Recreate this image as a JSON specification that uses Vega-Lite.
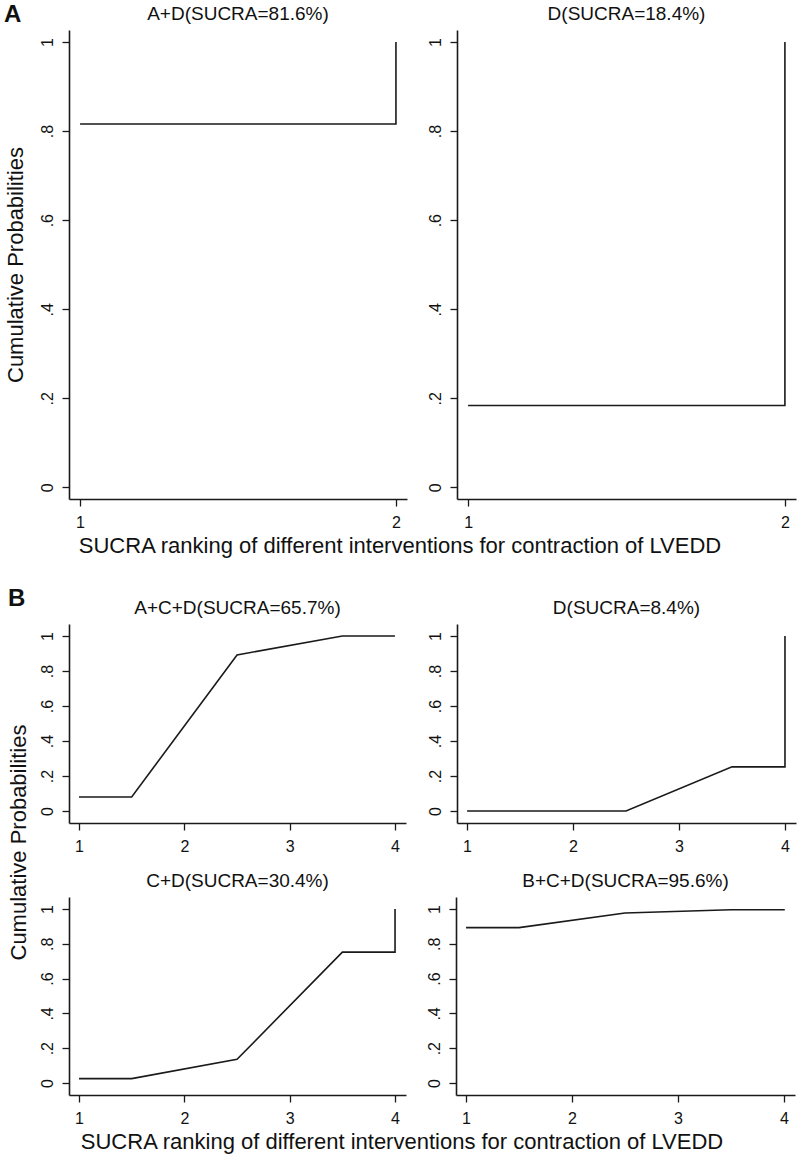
{
  "$schema": "https://vega.github.io/schema/vega-lite/v6.json",
  "background": "white",
  "padding": {"left": 4, "top": 3, "right": 5, "bottom": 5},
  "config": {
    "font": "Liberation Sans",
    "view": {"stroke": null},
    "axis": {
      "grid": false,
      "domainColor": "#1a1a1a",
      "domainWidth": 1.6,
      "tickColor": "#1a1a1a",
      "tickWidth": 1.3,
      "tickSize": 7,
      "labelColor": "#111111",
      "labelFont": "Liberation Sans",
      "labelFontSize": 16,
      "labelPadding": 8,
      "titleFont": "Liberation Sans",
      "titleFontWeight": "normal",
      "titleFontSize": 22,
      "titleColor": "#111111"
    },
    "axisX": {"format": "d"},
    "axisY": {"labelAngle": 270, "labelPadding": 7},
    "title": {"font": "Liberation Sans", "fontWeight": "normal", "fontSize": 19, "color": "#111111", "offset": 6},
    "line": {"color": "#1a1a1a", "strokeWidth": 1.6},
    "concat": {"spacing": 20}
  },
  "data": {
    "values": [
      {"figure": "A", "treatment": "A+D", "rank": 1, "prob": 0.816, "ord": 1},
      {"figure": "A", "treatment": "A+D", "rank": 2, "prob": 0.816, "ord": 2},
      {"figure": "A", "treatment": "A+D", "rank": 2, "prob": 1.0, "ord": 3},
      {"figure": "A", "treatment": "D", "rank": 1, "prob": 0.184, "ord": 1},
      {"figure": "A", "treatment": "D", "rank": 2, "prob": 0.184, "ord": 2},
      {"figure": "A", "treatment": "D", "rank": 2, "prob": 1.0, "ord": 3},
      {"figure": "B", "treatment": "A+C+D", "rank": 1, "prob": 0.08, "ord": 1},
      {"figure": "B", "treatment": "A+C+D", "rank": 1.5, "prob": 0.08, "ord": 2},
      {"figure": "B", "treatment": "A+C+D", "rank": 2.5, "prob": 0.892, "ord": 3},
      {"figure": "B", "treatment": "A+C+D", "rank": 3.5, "prob": 1.0, "ord": 4},
      {"figure": "B", "treatment": "A+C+D", "rank": 4, "prob": 1.0, "ord": 5},
      {"figure": "B", "treatment": "A+C+D", "rank": 4, "prob": 1.0, "ord": 6},
      {"figure": "B", "treatment": "D", "rank": 1, "prob": 0.0, "ord": 1},
      {"figure": "B", "treatment": "D", "rank": 1.5, "prob": 0.0, "ord": 2},
      {"figure": "B", "treatment": "D", "rank": 2.5, "prob": 0.0, "ord": 3},
      {"figure": "B", "treatment": "D", "rank": 3.5, "prob": 0.252, "ord": 4},
      {"figure": "B", "treatment": "D", "rank": 4, "prob": 0.252, "ord": 5},
      {"figure": "B", "treatment": "D", "rank": 4, "prob": 1.0, "ord": 6},
      {"figure": "B", "treatment": "C+D", "rank": 1, "prob": 0.025, "ord": 1},
      {"figure": "B", "treatment": "C+D", "rank": 1.5, "prob": 0.025, "ord": 2},
      {"figure": "B", "treatment": "C+D", "rank": 2.5, "prob": 0.136, "ord": 3},
      {"figure": "B", "treatment": "C+D", "rank": 3.5, "prob": 0.752, "ord": 4},
      {"figure": "B", "treatment": "C+D", "rank": 4, "prob": 0.752, "ord": 5},
      {"figure": "B", "treatment": "C+D", "rank": 4, "prob": 1.0, "ord": 6},
      {"figure": "B", "treatment": "B+C+D", "rank": 1, "prob": 0.893, "ord": 1},
      {"figure": "B", "treatment": "B+C+D", "rank": 1.5, "prob": 0.893, "ord": 2},
      {"figure": "B", "treatment": "B+C+D", "rank": 2.5, "prob": 0.977, "ord": 3},
      {"figure": "B", "treatment": "B+C+D", "rank": 3.5, "prob": 0.996, "ord": 4},
      {"figure": "B", "treatment": "B+C+D", "rank": 4, "prob": 0.996, "ord": 5},
      {"figure": "B", "treatment": "B+C+D", "rank": 4, "prob": 1.0, "ord": 6}
    ]
  },
  "spacing": 30,
  "vconcat": [
    {
      "title": {"text": "A", "anchor": "start", "fontWeight": "bold", "fontSize": 24, "offset": -22},
      "vconcat": [
        {
          "title": {"text": "SUCRA ranking of different interventions for contraction of LVEDD", "orient": "bottom", "anchor": "middle", "fontSize": 22, "offset": 6},
          "hconcat": [
            {
              "width": 338, "height": 469,
              "title": "A+D(SUCRA=81.6%)",
              "transform": [{"filter": "datum.figure === 'A' && datum.treatment === 'A+D'"}],
              "mark": "line",
              "encoding": {
                "x": {"field": "rank", "type": "quantitative", "scale": {"domain": [0.965, 2.035], "nice": false, "zero": false}, "axis": {"values": [1, 2], "title": null}},
                "y": {"field": "prob", "type": "quantitative", "scale": {"domain": [-0.026, 1.027], "nice": false, "zero": false}, "axis": {"values": [0, 0.2, 0.4, 0.6, 0.8, 1], "labelExpr": "replace(format(datum.value, '~g'), '0.', '.')", "title": "Cumulative Probabilities", "titlePadding": 12}},
                "order": {"field": "ord", "type": "quantitative"}
              }
            },
            {
              "width": 339, "height": 469,
              "title": "D(SUCRA=18.4%)",
              "transform": [{"filter": "datum.figure === 'A' && datum.treatment === 'D'"}],
              "mark": "line",
              "encoding": {
                "x": {"field": "rank", "type": "quantitative", "scale": {"domain": [0.965, 2.035], "nice": false, "zero": false}, "axis": {"values": [1, 2], "title": null}},
                "y": {"field": "prob", "type": "quantitative", "scale": {"domain": [-0.026, 1.027], "nice": false, "zero": false}, "axis": {"values": [0, 0.2, 0.4, 0.6, 0.8, 1], "labelExpr": "replace(format(datum.value, '~g'), '0.', '.')", "title": null}},
                "order": {"field": "ord", "type": "quantitative"}
              }
            }
          ]
        }
      ]
    },
    {
      "title": {"text": "B", "anchor": "start", "fontWeight": "bold", "fontSize": 24, "offset": -12},
      "vconcat": [
        {
          "title": {"text": "SUCRA ranking of different interventions for contraction of LVEDD", "orient": "bottom", "anchor": "middle", "fontSize": 22, "offset": 6},
          "vconcat": [
            {
              "title": {"text": "Cumulative Probabilities", "orient": "left", "anchor": "middle", "fontSize": 22, "offset": 8, "dx": 20},
              "spacing": 18,
              "vconcat": [
                {
                  "hconcat": [
                    {
                      "width": 337, "height": 199,
                      "title": "A+C+D(SUCRA=65.7%)",
                      "transform": [{"filter": "datum.figure === 'B' && datum.treatment === 'A+C+D'"}],
                      "mark": "line",
                      "encoding": {
                        "x": {"field": "rank", "type": "quantitative", "scale": {"domain": [0.905, 4.104], "nice": false, "zero": false}, "axis": {"values": [1, 2, 3, 4], "title": null}},
                        "y": {"field": "prob", "type": "quantitative", "scale": {"domain": [-0.069, 1.069], "nice": false, "zero": false}, "axis": {"values": [0, 0.2, 0.4, 0.6, 0.8, 1], "labelExpr": "replace(format(datum.value, '~g'), '0.', '.')", "title": null}},
                        "order": {"field": "ord", "type": "quantitative"}
                      }
                    },
                    {
                      "width": 339, "height": 199,
                      "title": "D(SUCRA=8.4%)",
                      "transform": [{"filter": "datum.figure === 'B' && datum.treatment === 'D'"}],
                      "mark": "line",
                      "encoding": {
                        "x": {"field": "rank", "type": "quantitative", "scale": {"domain": [0.905, 4.104], "nice": false, "zero": false}, "axis": {"values": [1, 2, 3, 4], "title": null}},
                        "y": {"field": "prob", "type": "quantitative", "scale": {"domain": [-0.069, 1.069], "nice": false, "zero": false}, "axis": {"values": [0, 0.2, 0.4, 0.6, 0.8, 1], "labelExpr": "replace(format(datum.value, '~g'), '0.', '.')", "title": null}},
                        "order": {"field": "ord", "type": "quantitative"}
                      }
                    }
                  ]
                },
                {
                  "hconcat": [
                    {
                      "width": 337, "height": 198,
                      "title": "C+D(SUCRA=30.4%)",
                      "transform": [{"filter": "datum.figure === 'B' && datum.treatment === 'C+D'"}],
                      "mark": "line",
                      "encoding": {
                        "x": {"field": "rank", "type": "quantitative", "scale": {"domain": [0.905, 4.104], "nice": false, "zero": false}, "axis": {"values": [1, 2, 3, 4], "title": null}},
                        "y": {"field": "prob", "type": "quantitative", "scale": {"domain": [-0.069, 1.069], "nice": false, "zero": false}, "axis": {"values": [0, 0.2, 0.4, 0.6, 0.8, 1], "labelExpr": "replace(format(datum.value, '~g'), '0.', '.')", "title": null}},
                        "order": {"field": "ord", "type": "quantitative"}
                      }
                    },
                    {
                      "width": 339, "height": 198,
                      "title": "B+C+D(SUCRA=95.6%)",
                      "transform": [{"filter": "datum.figure === 'B' && datum.treatment === 'B+C+D'"}],
                      "mark": "line",
                      "encoding": {
                        "x": {"field": "rank", "type": "quantitative", "scale": {"domain": [0.905, 4.104], "nice": false, "zero": false}, "axis": {"values": [1, 2, 3, 4], "title": null}},
                        "y": {"field": "prob", "type": "quantitative", "scale": {"domain": [-0.069, 1.069], "nice": false, "zero": false}, "axis": {"values": [0, 0.2, 0.4, 0.6, 0.8, 1], "labelExpr": "replace(format(datum.value, '~g'), '0.', '.')", "title": null}},
                        "order": {"field": "ord", "type": "quantitative"}
                      }
                    }
                  ]
                }
              ]
            }
          ]
        }
      ]
    }
  ]
}
